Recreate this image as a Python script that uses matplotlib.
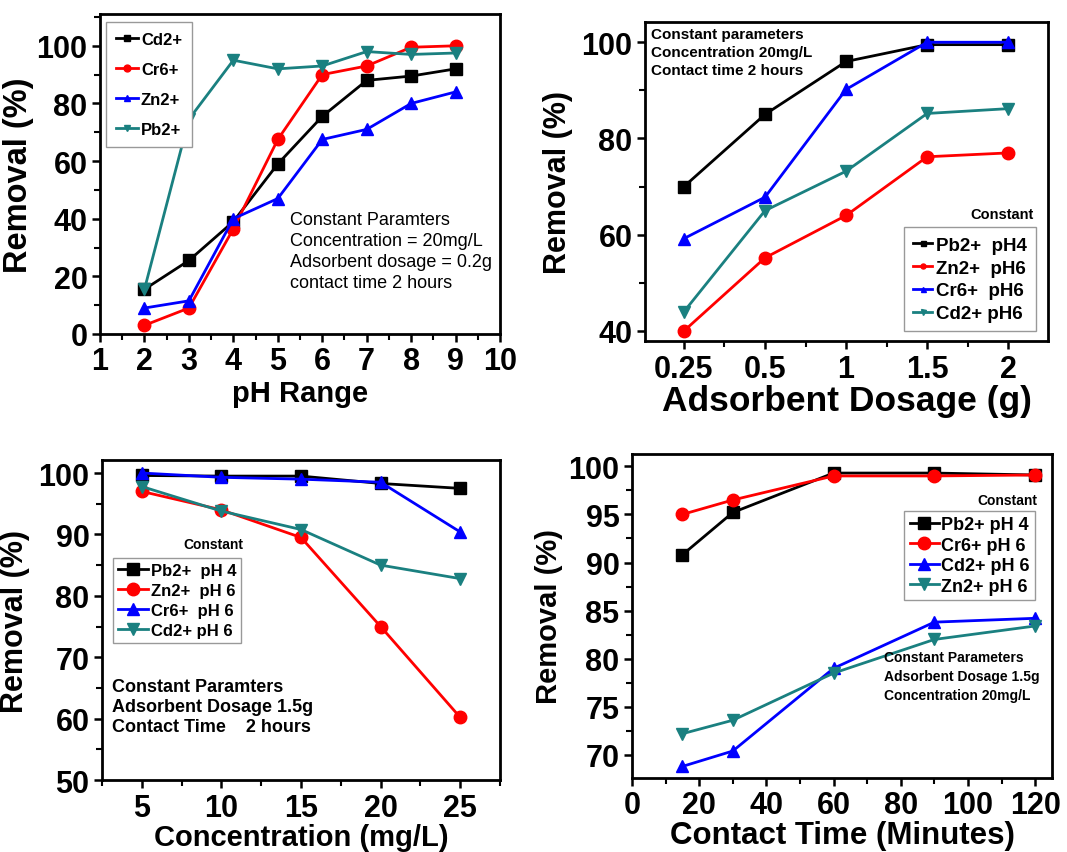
import numpy as np
import matplotlib
matplotlib.use("Agg")
import matplotlib.pyplot as plt
from matplotlib.ticker import MultipleLocator

plt.rcParams['font.family'] = ['Liberation Sans', 'DejaVu Sans']
plt.rcParams['font.weight'] = 'bold'

# ---------------- data ----------------
# (a) pH
ph = [2, 3, 4, 5, 6, 7, 8, 9]
ph_cd = [15.5, 25.5, 39, 59, 75.5, 88, 89.5, 92]
ph_cr = [3, 9, 36.5, 67.5, 90, 93, 99.5, 100]
ph_zn = [9, 11.5, 40, 47, 67.5, 71, 80, 84]
ph_pb = [15.5, 74.5, 95, 92, 93, 98, 97, 97.5]

# (b) adsorbent dosage
dose_labels = ["0.25", "0.5", "1", "1.5", "2"]
dose_pb = [70, 85, 96, 99.5, 99.5]
dose_zn = [40, 55.2, 64, 76.2, 77]
dose_cr = [59.2, 67.8, 90.2, 100, 100]
dose_cd = [44, 65, 73.2, 85.2, 86.2]

# (c) concentration
conc = [5, 10, 15, 20, 25]
conc_pb = [99.6, 99.5, 99.5, 98.3, 97.5]
conc_zn = [97, 94, 89.5, 75, 60.2]
conc_cr = [100, 99.3, 99, 98.5, 90.4]
conc_cd = [97.8, 93.8, 90.8, 85, 82.8]

# (d) contact time
tmin = [15, 30, 60, 90, 120]
time_pb = [90.8, 95.2, 99.3, 99.3, 99.1]
time_cr = [95, 96.5, 99, 99, 99.1]
time_cd = [68.8, 70.4, 79, 83.8, 84.2]
time_zn = [72.2, 73.6, 78.5, 82, 83.4]

BLACK = "black"
RED = "#ff0000"
BLUE = "#0000ff"
TEAL = "#1a8080"

fig = plt.figure(figsize=(10.67, 8.53), dpi=100)


def style_axes(ax, tick_size=22):
    for s in ax.spines.values():
        s.set_linewidth(2)
    ax.tick_params(which='major', direction='out', length=6, width=1.8,
                   labelsize=tick_size, pad=3)
    ax.tick_params(which='minor', direction='out', length=4, width=1.5)
    for lab in ax.get_xticklabels() + ax.get_yticklabels():
        lab.set_fontweight('bold')


def boxed_legend(ax, **kw):
    leg = ax.legend(fancybox=False, framealpha=1, edgecolor='#999999',
                    borderaxespad=0, **kw)
    leg.get_frame().set_linewidth(1)
    return leg


lw = 2
ms = 9

# ---------------- panel (a) ----------------
ax1 = fig.add_axes([0.0937, 0.6073, 0.375, 0.375])
ax1.plot(ph, ph_cd, '-s', color=BLACK, lw=lw, ms=ms, label='Cd2+')
ax1.plot(ph, ph_cr, '-o', color=RED, lw=lw, ms=ms, label='Cr6+')
ax1.plot(ph, ph_zn, '-^', color=BLUE, lw=lw, ms=ms, label='Zn2+')
ax1.plot(ph, ph_pb, '-v', color=TEAL, lw=lw, ms=ms, label='Pb2+')
ax1.set_xlim(1, 10)
ax1.set_ylim(0, 111)
ax1.set_xticks(range(1, 11))
ax1.set_yticks(range(0, 101, 20))
ax1.xaxis.set_minor_locator(MultipleLocator(0.5))
ax1.yaxis.set_minor_locator(MultipleLocator(10))
ax1.set_xlabel('pH Range', fontsize=21, fontweight='bold', labelpad=2)
ax1.set_ylabel('Removal (%)', fontsize=23.5, fontweight='bold', labelpad=2)
style_axes(ax1)
boxed_legend(ax1, loc='upper left', bbox_to_anchor=(0.015, 0.975), fontsize=12,
             markerscale=0.55, handlelength=1.3, handletextpad=0.2,
             labelspacing=0.9, borderpad=0.6)
ax1.text(0.475, 0.385, 'Constant Paramters\nConcentration = 20mg/L\n'
         'Adsorbent dosage = 0.2g\ncontact time 2 hours',
         transform=ax1.transAxes, fontsize=13, fontweight='normal',
         va='top', ha='left', linespacing=1.3)

# ---------------- panel (b) ----------------
ax2 = fig.add_axes([0.6045, 0.599, 0.3777, 0.374])
xi = np.arange(len(dose_labels))
ax2.plot(xi, dose_pb, '-s', color=BLACK, lw=lw, ms=ms, label='Pb2+  pH4')
ax2.plot(xi, dose_zn, '-o', color=RED, lw=lw, ms=ms, label='Zn2+  pH6')
ax2.plot(xi, dose_cr, '-^', color=BLUE, lw=lw, ms=ms, label='Cr6+  pH6')
ax2.plot(xi, dose_cd, '-v', color=TEAL, lw=lw, ms=ms, label='Cd2+ pH6')
ax2.set_xlim(-0.48, 4.49)
ax2.set_ylim(37.9, 104.2)
ax2.set_xticks(xi)
ax2.set_xticklabels(dose_labels)
ax2.set_yticks([40, 60, 80, 100])
ax2.xaxis.set_minor_locator(MultipleLocator(0.5))
ax2.yaxis.set_minor_locator(MultipleLocator(10))
ax2.set_xlabel('Adsorbent Dosage (g)', fontsize=25.5, fontweight='bold', labelpad=0)
ax2.set_ylabel('Removal (%)', fontsize=22, fontweight='bold', labelpad=6)
style_axes(ax2)
boxed_legend(ax2, loc='lower right', bbox_to_anchor=(0.97, 0.03), fontsize=13.5,
             markerscale=0.4, handlelength=1.0, handletextpad=0.2,
             labelspacing=0.3, borderpad=0.5)
ax2.text(0.965, 0.375, 'Constant', transform=ax2.transAxes, fontsize=10.5,
         ha='right', va='bottom')
ax2.text(0.015, 0.985, 'Constant parameters\nConcentration 20mg/L\nContact time 2 hours',
         transform=ax2.transAxes, fontsize=11, va='top', ha='left',
         linespacing=1.35)

# ---------------- panel (c) ----------------
ax3 = fig.add_axes([0.0956, 0.0844, 0.373, 0.375])
ax3.plot(conc, conc_pb, '-s', color=BLACK, lw=lw, ms=ms, label='Pb2+  pH 4')
ax3.plot(conc, conc_zn, '-o', color=RED, lw=lw, ms=ms, label='Zn2+  pH 6')
ax3.plot(conc, conc_cr, '-^', color=BLUE, lw=lw, ms=ms, label='Cr6+  pH 6')
ax3.plot(conc, conc_cd, '-v', color=TEAL, lw=lw, ms=ms, label='Cd2+ pH 6')
ax3.set_xlim(2.5, 27.5)
ax3.set_ylim(50, 102.1)
ax3.set_xticks(conc)
ax3.set_yticks(range(50, 101, 10))
ax3.xaxis.set_minor_locator(MultipleLocator(2.5))
ax3.yaxis.set_minor_locator(MultipleLocator(5))
ax3.set_xlabel('Concentration (mg/L)', fontsize=21, fontweight='bold', labelpad=0)
ax3.set_ylabel('Removal (%)', fontsize=22, fontweight='bold', labelpad=6)
style_axes(ax3)
boxed_legend(ax3, loc='upper left', bbox_to_anchor=(0.028, 0.695), fontsize=12,
             markerscale=1.0, handlelength=1.8, handletextpad=0.15,
             labelspacing=0.3, borderpad=0.3)
ax3.text(0.355, 0.715, 'Constant', transform=ax3.transAxes, fontsize=10,
         ha='right', va='bottom')
ax3.text(0.025, 0.32, 'Constant Paramters\nAdsorbent Dosage 1.5g\nContact Time    2 hours',
         transform=ax3.transAxes, fontsize=13, va='top', ha='left',
         linespacing=1.25)

# ---------------- panel (d) ----------------
ax4 = fig.add_axes([0.5923, 0.0868, 0.3936, 0.38])
ax4.plot(tmin, time_pb, '-s', color=BLACK, lw=lw, ms=ms, label='Pb2+ pH 4')
ax4.plot(tmin, time_cr, '-o', color=RED, lw=lw, ms=ms, label='Cr6+ pH 6')
ax4.plot(tmin, time_cd, '-^', color=BLUE, lw=lw, ms=ms, label='Cd2+ pH 6')
ax4.plot(tmin, time_zn, '-v', color=TEAL, lw=lw, ms=ms, label='Zn2+ pH 6')
ax4.set_xlim(0, 125)
ax4.set_ylim(67.6, 101.3)
ax4.set_xticks(range(0, 121, 20))
ax4.set_yticks(range(70, 101, 5))
ax4.xaxis.set_minor_locator(MultipleLocator(10))
ax4.yaxis.set_minor_locator(MultipleLocator(2.5))
ax4.set_xlabel('Contact Time (Minutes)', fontsize=22.5, fontweight='bold', labelpad=0)
ax4.set_ylabel('Removal (%)', fontsize=21, fontweight='bold', labelpad=4)
style_axes(ax4)
boxed_legend(ax4, loc='upper right', bbox_to_anchor=(0.96, 0.825), fontsize=13,
             markerscale=1.0, handlelength=1.6, handletextpad=0.15,
             labelspacing=0.2, borderpad=0.3)
ax4.text(0.965, 0.835, 'Constant', transform=ax4.transAxes, fontsize=10,
         ha='right', va='bottom')
ax4.text(0.6, 0.395, 'Constant Parameters\nAdsorbent Dosage 1.5g\nConcentration 20mg/L',
         transform=ax4.transAxes, fontsize=10, va='top', ha='left',
         linespacing=1.45)

fig.savefig('out.png', dpi=100)
